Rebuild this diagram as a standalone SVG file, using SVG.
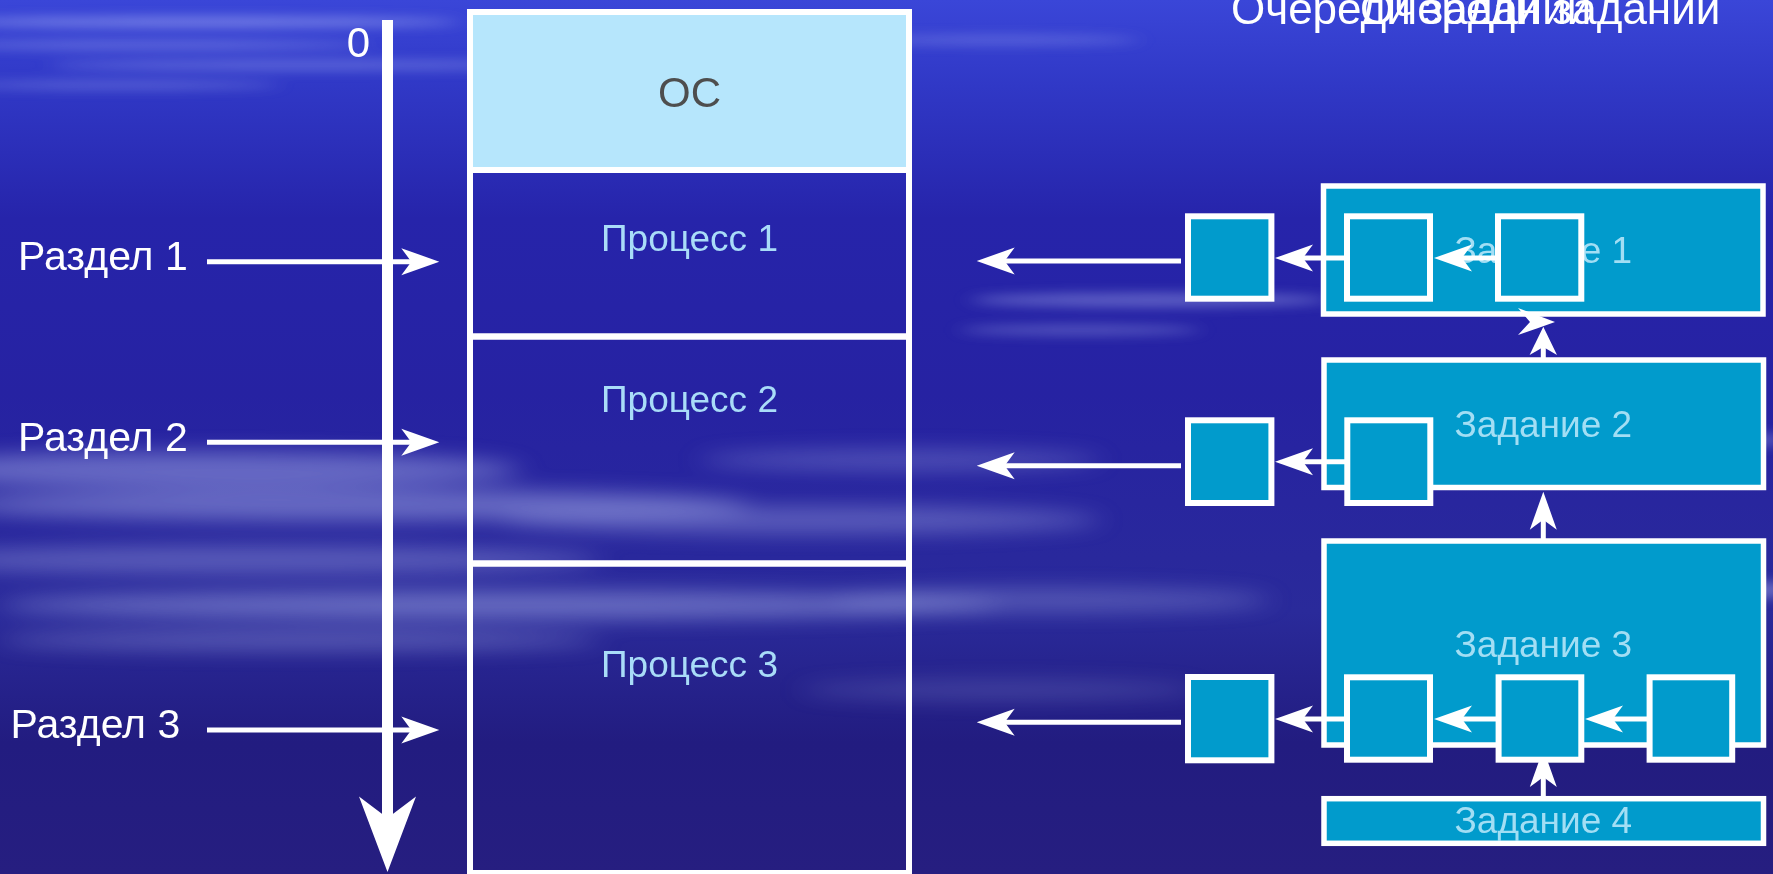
<svg xmlns="http://www.w3.org/2000/svg" width="1773" height="874" viewBox="0 0 1773 874">
<defs>
<style>
.lbl{font-family:"Liberation Sans",Arial,sans-serif;fill:#ffffff}
.proc{font-family:"Liberation Sans",Arial,sans-serif;fill:#a9dcf8;font-size:37px;text-anchor:middle}
.task{font-family:"Liberation Sans",Arial,sans-serif;fill:#a2def4;font-size:37px;text-anchor:middle}
.mem{fill:none;stroke:#ffffff;stroke-width:6}
.tk{fill:#019bcc;stroke:#ffffff;stroke-width:5.5}
.bx{fill:#019bcc;stroke:#ffffff;stroke-width:6}
.ar{stroke:#ffffff;stroke-width:5;fill:none;marker-end:url(#ah)}
</style>
<marker id="ah" markerUnits="userSpaceOnUse" viewBox="-40 -16 42 32" markerWidth="42" markerHeight="32" refX="-24" refY="0" orient="auto">
<path d="M0,0 L-38,-13.5 L-28,0 L-38,13.5 Z" fill="#ffffff"/>
</marker>
<linearGradient id="bg" x1="0" y1="0" x2="0" y2="1">
<stop offset="0" stop-color="#3a46d8"/>
<stop offset="0.1" stop-color="#3038c6"/>
<stop offset="0.25" stop-color="#2624aa"/>
<stop offset="0.45" stop-color="#2622a2"/>
<stop offset="0.7" stop-color="#2a2a9a"/>
<stop offset="0.85" stop-color="#221c80"/>
<stop offset="1" stop-color="#261e80"/>
</linearGradient>
<filter id="blur" x="-20%" y="-200%" width="140%" height="500%">
<feGaussianBlur stdDeviation="10 6"/>
</filter>
<filter id="blur2" x="-20%" y="-200%" width="140%" height="500%">
<feGaussianBlur stdDeviation="14 10"/>
</filter>
</defs>

<g id="background">
<rect x="0" y="0" width="1773" height="874" fill="url(#bg)"/>
<g filter="url(#blur)" fill="#c8d0ff">
<ellipse cx="200" cy="22" rx="260" ry="5" opacity="0.45"/>
<ellipse cx="150" cy="45" rx="220" ry="4" opacity="0.35"/>
<ellipse cx="300" cy="65" rx="250" ry="5" opacity="0.3"/>
<ellipse cx="120" cy="85" rx="160" ry="4" opacity="0.3"/>
<ellipse cx="1000" cy="40" rx="140" ry="5" opacity="0.25"/>
<ellipse cx="1150" cy="300" rx="180" ry="7" opacity="0.35"/>
<ellipse cx="1080" cy="330" rx="120" ry="5" opacity="0.3"/>
<ellipse cx="1700" cy="440" rx="90" ry="8" opacity="0.35"/>
<ellipse cx="1720" cy="590" rx="80" ry="10" opacity="0.4"/>
</g>
<g filter="url(#blur2)" fill="#b4bcf0">
<ellipse cx="200" cy="470" rx="320" ry="18" opacity="0.45"/>
<ellipse cx="350" cy="505" rx="400" ry="16" opacity="0.45"/>
<ellipse cx="800" cy="520" rx="300" ry="14" opacity="0.35"/>
<ellipse cx="250" cy="560" rx="350" ry="14" opacity="0.35"/>
<ellipse cx="500" cy="605" rx="500" ry="14" opacity="0.45"/>
<ellipse cx="900" cy="460" rx="200" ry="10" opacity="0.3"/>
<ellipse cx="1050" cy="600" rx="220" ry="12" opacity="0.3"/>
<ellipse cx="300" cy="640" rx="300" ry="10" opacity="0.35"/>
<ellipse cx="1000" cy="690" rx="200" ry="10" opacity="0.2"/>
</g>
</g>

<text id="title2" class="lbl" x="1360" y="24" font-size="44">Очереди заданий</text>
<text id="title" class="lbl" x="1231" y="24" font-size="44">Очереди заданий</text>

<g id="memory">
<g id="os"><rect x="473" y="15" width="433" height="152" fill="#b6e6fc"/><rect class="mem" x="470" y="12" width="439" height="158"/><text x="689.5" y="107" font-family="Liberation Sans,Arial,sans-serif" font-size="42" fill="#4e4e4e" text-anchor="middle">ОС</text></g>
<g id="proc1"><rect class="mem" x="470" y="170" width="439" height="166.5"/><text class="proc" x="689.5" y="251">Процесс 1</text></g>
<g id="proc2"><rect class="mem" x="470" y="336.5" width="439" height="227"/><text class="proc" x="689.5" y="411.7">Процесс 2</text></g>
<g id="proc3"><rect class="mem" x="470" y="563.5" width="439" height="309.5"/><text class="proc" x="689.5" y="676.7">Процесс 3</text></g>
</g>

<g id="axis">
<line x1="387.5" y1="20" x2="387.5" y2="825" stroke="#ffffff" stroke-width="11"/>
<path d="M387.5,872 L359,796.5 L387.5,818 L416,796.5 Z" fill="#ffffff"/>
<text class="lbl" x="370" y="57" font-size="42" text-anchor="end">0</text>
</g>

<g id="sections">
<text id="sec1" class="lbl" x="18" y="270" font-size="41">Раздел 1</text>
<text id="sec2" class="lbl" x="18" y="451" font-size="41">Раздел 2</text>
<text id="sec3" class="lbl" x="10.5" y="738.3" font-size="41">Раздел 3</text>
</g>

<g id="task1"><rect class="tk" x="1323.5" y="186" width="439.5" height="128"/><text class="task" x="1543.3" y="263.3">Задание 1</text></g>
<g id="task2"><rect class="tk" x="1324" y="360" width="439.5" height="127.5"/><text class="task" x="1543.3" y="436.7">Задание 2</text></g>
<g id="task3"><rect class="tk" x="1324" y="541" width="439.5" height="204"/><text class="task" x="1543.3" y="656.7">Задание 3</text></g>
<g id="task4"><rect class="tk" x="1324" y="798.7" width="439.5" height="44.6"/><text class="task" x="1543.3" y="833.3">Задание 4</text></g>

<g id="connectors">
<line class="ar" x1="207" y1="261.7" x2="415.3" y2="261.7"/>
<line class="ar" x1="207" y1="442.3" x2="415.3" y2="442.3"/>
<line class="ar" x1="207" y1="730" x2="415.3" y2="730"/>
<line class="ar" x1="1181" y1="261" x2="1000.7" y2="261"/>
<line class="ar" x1="1181" y1="465.7" x2="1000.7" y2="465.7"/>
<line class="ar" x1="1181" y1="722.3" x2="1000.7" y2="722.3"/>
<line class="ar" x1="1345" y1="258" x2="1299" y2="258"/>
<line class="ar" x1="1496" y1="258" x2="1458" y2="258"/>
<line class="ar" x1="1345" y1="461.7" x2="1299" y2="461.7"/>
<line class="ar" x1="1345" y1="719" x2="1299" y2="719"/>
<line class="ar" x1="1496" y1="719" x2="1458" y2="719"/>
<line class="ar" x1="1647" y1="719" x2="1609" y2="719"/>
<line x1="1543.3" y1="358" x2="1543.3" y2="340" stroke="#ffffff" stroke-width="5"/>
<path d="M1543.3,326.7 L1557,355 L1543.3,347 L1529.6,355 Z" fill="#ffffff"/>
<path d="M1518,308 L1555,322 L1518,335 L1530,322 Z" fill="#ffffff"/>
<line class="ar" x1="1543.3" y1="539" x2="1543.3" y2="515.7"/>
<line class="ar" x1="1543.3" y1="797" x2="1543.3" y2="773"/>
</g>

<g id="q1"><rect class="bx" x="1188" y="216.3" width="83.4" height="82.4"/></g>
<g id="q2"><rect class="bx" x="1188" y="420.3" width="83.4" height="82.7"/></g>
<g id="q3"><rect class="bx" x="1188" y="677" width="83.4" height="83.3"/></g>
<g id="t1a"><rect class="bx" x="1347" y="216.3" width="83" height="82.4"/></g>
<g id="t1b"><rect class="bx" x="1498" y="216.3" width="83.3" height="82.4"/></g>
<g id="t2a"><rect class="bx" x="1347.3" y="420.3" width="83" height="82.7"/></g>
<g id="t3a"><rect class="bx" x="1347" y="677.3" width="83" height="82.4"/></g>
<g id="t3b"><rect class="bx" x="1498.6" y="677.3" width="82.7" height="82.4"/></g>
<g id="t3c"><rect class="bx" x="1649.6" y="677.3" width="82.6" height="82.4"/></g>
</svg>
